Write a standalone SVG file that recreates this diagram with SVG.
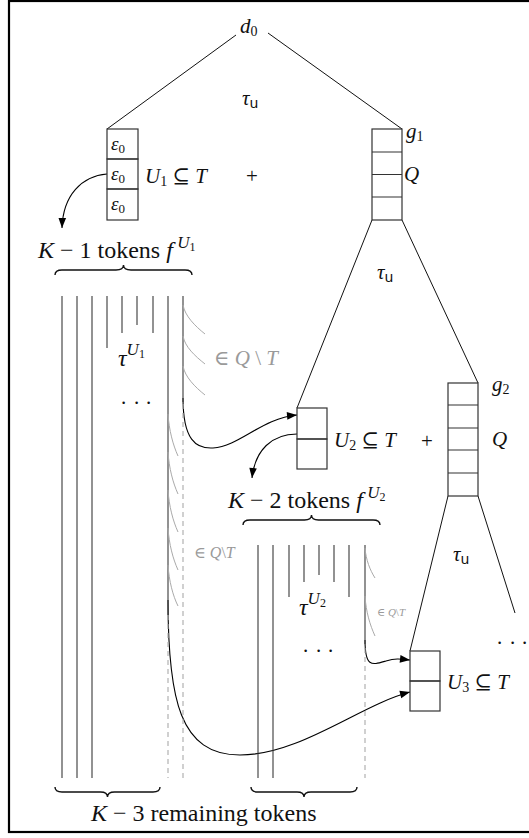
<svg xmlns="http://www.w3.org/2000/svg" width="529" height="838" viewBox="0 0 529 838" font-family="'Liberation Serif','DejaVu Serif',serif">
<style>
text{font-family:"Liberation Serif","DejaVu Serif",serif;fill:#111}
.m{font-size:21px}
.big{font-size:24px}
.i{font-style:italic}
.n{font-style:normal}
.sf{font-family:"DejaVu Sans","Liberation Sans",sans-serif;font-style:normal}
.gray{fill:#9a9a9a}
.box{fill:none;stroke:#333;stroke-width:1.2}
.edge{fill:none;stroke:#111;stroke-width:1}
.tok{stroke:#3a3a3a;stroke-width:1.1}
.dash{stroke:#aaa;stroke-width:1.1;stroke-dasharray:5 4}
.hatch{fill:none;stroke:#aaa;stroke-width:1}
.arr{fill:none;stroke:#000;stroke-width:1.1;marker-end:url(#ah)}
.brace{fill:none;stroke:#111;stroke-width:1.4}
</style>
<defs>
<marker id="ah" markerUnits="userSpaceOnUse" markerWidth="12" markerHeight="10" refX="0" refY="0" viewBox="-11 -5 12 10" orient="auto" overflow="visible">
<path d="M-10,-3.8 L0,0 L-10,3.8 z" fill="#000"/>
</marker>
</defs>
<rect x="0" y="0" width="529" height="838" fill="#fff"/>
<rect x="9" y="1" width="530" height="831" fill="#fff" stroke="#000" stroke-width="2.2"/>

<g id="connectors">
<path class="edge" d="M236,35 L107,129"/>
<path class="edge" d="M268,33 L402,129"/>
<path class="edge" d="M372,220 L297,408"/>
<path class="edge" d="M402,220 L478,383"/>
<path class="edge" d="M448,496 L410,651"/>
<path class="edge" d="M478,496 L515,613"/>
<path class="arr" d="M107,174 C82,176 63,195 62,228"/>
<path class="arr" d="M297,434 C272,434 255,450 252,478"/>
<path class="arr" d="M183,398 C183,440 196,449 213,448 C240,446 262,418 297,415"/>
<path class="arr" d="M168,600 C168,700 180,755 240,755 C300,755 360,705 410,692"/>
<path class="arr" d="M365,640 C365,668 372,665 386,661 C396,658 401,659 410,660"/>
</g>

<g id="tree-root">
<text class="m i" x="240" y="33">d<tspan class="n" font-size="14" dy="3">0</tspan></text>
<text class="m i" x="242" y="105">τ<tspan class="sf" font-size="14" dy="3">u</tspan></text>
</g>

<g id="U1">
<rect class="box" x="107" y="129" width="31" height="30"/>
<rect class="box" x="107" y="159" width="31" height="30"/>
<rect class="box" x="107" y="189" width="31" height="31"/>
<text class="i" font-size="19" x="111" y="150">ε<tspan class="n" font-size="13" dy="3">0</tspan></text>
<text class="i" font-size="19" x="111" y="180">ε<tspan class="n" font-size="13" dy="3">0</tspan></text>
<text class="i" font-size="19" x="111" y="210">ε<tspan class="n" font-size="13" dy="3">0</tspan></text>
<text class="m" x="145" y="183"><tspan class="i">U</tspan><tspan font-size="14" dy="3">1</tspan><tspan dy="-3"> ⊆ </tspan><tspan class="i">T</tspan></text>
<text class="m" x="246" y="183">+</text>
</g>

<g id="g1">
<rect class="box" x="372" y="129" width="30" height="91"/>
<path class="box" d="M372,152 H402 M372,174.5 H402 M372,197 H402"/>
<text class="m i" x="406" y="138">g<tspan class="n" font-size="14" dy="3">1</tspan></text>
<text class="m i" x="404" y="181">Q</text>
<text class="m i" x="377" y="279">τ<tspan class="sf" font-size="14" dy="3">u</tspan></text>
</g>

<g id="U2">
<rect class="box" x="297" y="408" width="30" height="31"/>
<rect class="box" x="297" y="439" width="30" height="30"/>
<text class="m" x="334" y="447"><tspan class="i">U</tspan><tspan font-size="14" dy="3">2</tspan><tspan dy="-3"> ⊆ </tspan><tspan class="i">T</tspan></text>
<text class="m" x="421" y="448">+</text>
</g>

<g id="g2">
<rect class="box" x="448" y="383" width="30" height="113"/>
<path class="box" d="M448,405 H478 M448,428 H478 M448,450 H478 M448,473 H478"/>
<text class="m i" x="492" y="391">g<tspan class="n" font-size="14" dy="3">2</tspan></text>
<text class="m i" x="492" y="446">Q</text>
<text class="m i" x="453" y="561">τ<tspan class="sf" font-size="14" dy="3">u</tspan></text>
<text class="m" x="497 510 522" y="644">...</text>
</g>

<g id="U3">
<rect class="box" x="410" y="651" width="30" height="30"/>
<rect class="box" x="410" y="681" width="30" height="30"/>
<text class="m" x="447" y="689"><tspan class="i">U</tspan><tspan font-size="14" dy="3">3</tspan><tspan dy="-3"> ⊆ </tspan><tspan class="i">T</tspan></text>
</g>

<g id="tokens1">
<text class="big" x="38" y="258"><tspan class="i">K</tspan> − 1 tokens <tspan class="i">f</tspan><tspan class="i" font-size="17" dy="-10"> U</tspan><tspan font-size="12" dy="3">1</tspan></text>
<path class="brace" d="M55,275 Q55,270 62,270 L116,270 Q123.5,270 123.5,265 Q123.5,270 131,270 L185,270 Q192,270 192,275"/>
<path class="tok" d="M62,296 V778 M77,296 V778 M92,296 V778 M107,296 V348 M122,296 V333 M137,296 V325 M153,296 V333 M168,296 V615 M183,296 V402"/>
<path class="dash" d="M168,615 V778 M183,404 V778"/>
<path class="hatch" d="M183,305 C185,316 195,326 205,334 M183,336 C185,347 195,356 205,364 M183,366 C185,377 195,387 205,395"/>
<path class="hatch" d="M168,414 C169,430 173,445 178,456 M168,452 C169,468 173,483 178,494 M168,490 C169,506 173,521 178,532 M168,528 C169,544 173,559 178,570 M168,565 C169,581 173,596 178,606"/>
<text class="m gray" x="214" y="365">∈ <tspan class="i">Q</tspan> \ <tspan class="i">T</tspan></text>
<text class="gray" font-size="16" x="194" y="558">∈ <tspan class="i">Q</tspan>\<tspan class="i">T</tspan></text>
<text class="i" font-size="24" x="118" y="366">τ<tspan font-size="17" dy="-11">U</tspan><tspan class="n" font-size="12" dy="3">1</tspan></text>
<text class="m" x="121 134 146" y="404">...</text>
</g>

<g id="tokens2">
<text class="big" x="228" y="508"><tspan class="i">K</tspan> − 2 tokens <tspan class="i">f</tspan><tspan class="i" font-size="17" dy="-10"> U</tspan><tspan font-size="12" dy="3">2</tspan></text>
<path class="brace" d="M243,525 Q243,520 250,520 L304.5,520 Q311.5,520 311.5,515 Q311.5,520 318.5,520 L373,520 Q380,520 380,525"/>
<path class="tok" d="M258,545 V778 M273,545 V778 M289,545 V597 M304,545 V582 M319,545 V575 M334,545 V582 M349,545 V597 M365,545 V644"/>
<path class="dash" d="M365,648 V778"/>
<path class="hatch" d="M365,548 C366,560 370,570 375,578 M365,596 C366,612 370,625 375,636"/>
<text class="gray" font-size="11" x="377" y="616">∈ <tspan class="i">Q</tspan>\<tspan class="i">T</tspan></text>
<text class="i" font-size="24" x="299" y="615">τ<tspan font-size="17" dy="-11">U</tspan><tspan class="n" font-size="12" dy="3">2</tspan></text>
<text class="m" x="303 316 328" y="652">...</text>
</g>

<g id="remaining">
<path class="brace" d="M55,787 Q55,792 62,792 L100.5,792 Q107.5,792 107.5,797 Q107.5,792 114.5,792 L153,792 Q160,792 160,787"/>
<path class="brace" d="M251,787 Q251,792 258,792 L297,792 Q304,792 304,797 Q304,792 311,792 L350,792 Q357,792 357,787"/>
<text class="big" x="91" y="821"><tspan class="i">K</tspan> − 3 remaining tokens</text>
</g>
</svg>
